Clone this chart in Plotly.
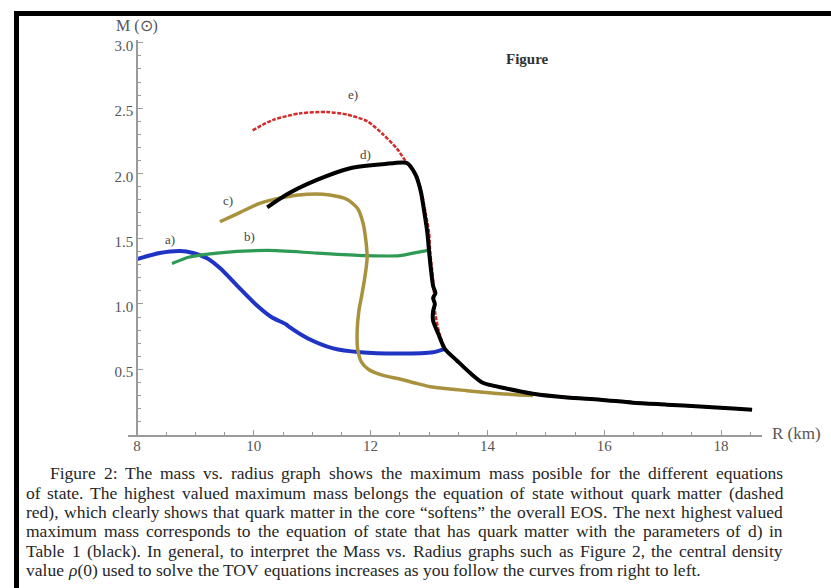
import plotly.graph_objects as go

W, H = 831, 588

# ---------------- data ----------------
# e) no quark matter (dashed red)
red_R = [9.98, 10.33, 10.79, 11.25, 11.60, 11.94, 12.21, 12.45, 12.62, 12.77, 12.87, 12.94, 13.00, 13.02, 13.05, 13.08, 13.10, 13.18, 13.28, 13.48, 13.70, 13.92, 14.34, 14.78, 15.93, 17.07, 18.53]
red_M = [2.33, 2.41, 2.46, 2.47, 2.45, 2.40, 2.30, 2.19, 2.08, 1.99, 1.86, 1.70, 1.55, 1.40, 1.27, 1.13, 0.95, 0.77, 0.656, 0.565, 0.473, 0.397, 0.351, 0.313, 0.267, 0.229, 0.19]

# a) blue
a_R = [8.00, 8.39, 8.74, 8.96, 9.20, 9.42, 9.76, 10.05, 10.30, 10.55, 10.62, 10.91, 11.36, 11.82, 12.50, 13.07, 13.27]
a_M = [1.344, 1.39, 1.405, 1.39, 1.35, 1.275, 1.12, 0.99, 0.90, 0.845, 0.82, 0.74, 0.66, 0.63, 0.62, 0.63, 0.656]

# b) green
b_R = [8.60, 8.90, 9.37, 10.23, 11.08, 11.94, 12.50, 12.73, 12.98]
b_M = [1.31, 1.36, 1.39, 1.41, 1.39, 1.37, 1.37, 1.39, 1.41]

# c) gold
c_R = [9.42, 9.76, 10.10, 10.50, 10.91, 11.30, 11.60, 11.78, 11.87, 11.92, 11.94, 11.90, 11.85, 11.80, 11.77, 11.78, 11.85, 11.96, 12.20, 12.50, 12.80, 13.02, 13.65, 14.22, 14.78]
c_M = [1.63, 1.70, 1.77, 1.815, 1.84, 1.835, 1.80, 1.73, 1.62, 1.48, 1.35, 1.20, 1.07, 0.95, 0.80, 0.65, 0.55, 0.50, 0.455, 0.425, 0.39, 0.366, 0.336, 0.313, 0.298]

# d) black
d_R = [10.23, 10.57, 11.08, 11.65, 12.21, 12.62, 12.77, 12.86, 12.92, 12.97, 13.00, 13.03, 13.07, 13.11, 13.07, 13.10, 13.07, 13.07, 13.16, 13.27, 13.48, 13.70, 13.92, 14.34, 14.78, 15.36, 15.93, 16.49, 17.07, 17.64, 18.21, 18.53]
d_M = [1.74, 1.84, 1.95, 2.04, 2.07, 2.08, 1.99, 1.86, 1.70, 1.55, 1.405, 1.275, 1.137, 1.084, 1.046, 1.00, 0.947, 0.87, 0.77, 0.656, 0.565, 0.473, 0.397, 0.351, 0.313, 0.284, 0.267, 0.244, 0.229, 0.214, 0.20, 0.19]

curve_labels = ["a)", "b)", "c)", "d)", "e)"]
label_R = [8.57, 9.92, 9.56, 11.92, 11.70]
label_M = [1.496, 1.519, 1.794, 2.145, 2.603]

x_tickvals = [8, 10, 12, 14, 16, 18]
x_ticktext = ["8", "10", "12", "14", "16", "18"]
y_tickvals = [0.5, 1.0, 1.5, 2.0, 2.5, 3.0]
y_ticktext = ["0.5", "1.0", "1.5", "2.0", "2.5", "3.0"]

CAPTION_LINES = [
    "Figure 2: The mass vs.  radius graph shows the maximum mass posible for the different equations",
    "of state.  The highest valued maximum mass belongs the equation of state without quark matter (dashed",
    "red), which clearly shows that quark matter in the core \u201csoftens\u201d the overall EOS. The next highest valued",
    "maximum mass corresponds to the equation of state that has quark matter with the parameters of d) in",
    "Table 1 (black).  In general, to interpret the Mass vs.  Radius graphs such as Figure 2, the central density",
    "value <i>\u03c1</i>(0) used to solve the TOV equations increases as you follow the curves from right to left.",
]

# ---------------- helpers ----------------
def pxx(p):
    return p / W


def pxy(p):
    return 1 - p / H


SERIF = "Liberation Serif, Times New Roman, serif"

fig = go.Figure()

line_common = dict(shape="spline", smoothing=0.7)
fig.add_trace(go.Scatter(x=red_R, y=red_M, mode="lines",
                         line=dict(color="#d42a2a", width=2.5, dash="4px,1.5px", **line_common)))
fig.add_trace(go.Scatter(x=a_R, y=a_M, mode="lines",
                         line=dict(color="#1f33c4", width=4, **line_common)))
fig.add_trace(go.Scatter(x=b_R, y=b_M, mode="lines",
                         line=dict(color="#2f9a55", width=3.2, **line_common)))
fig.add_trace(go.Scatter(x=c_R, y=c_M, mode="lines",
                         line=dict(color="#a8923e", width=3.5, **line_common)))
fig.add_trace(go.Scatter(x=d_R, y=d_M, mode="lines",
                         line=dict(color="#000000", width=4, **line_common)))

ax_col = "#9a9a9a"
tick_font = dict(family=SERIF, size=15, color="#555555")

fig.update_layout(
    width=W, height=H,
    margin=dict(l=0, r=0, t=0, b=0),
    paper_bgcolor="white", plot_bgcolor="white",
    showlegend=False,
    xaxis=dict(
        domain=[pxx(128.2), pxx(762)], range=[7.85, 18.7],
        showgrid=False, zeroline=False,
        showline=True, linecolor=ax_col, linewidth=1.5,
        ticks="inside", ticklen=5, tickcolor=ax_col, tickwidth=1.2,
        tickvals=x_tickvals, ticktext=x_ticktext, tickfont=tick_font,
        ticklabelstandoff=-3,
        minor=dict(dtick=0.5, tick0=0, ticks="inside", ticklen=3, tickcolor=ax_col, showgrid=False),
        fixedrange=True,
    ),
    yaxis=dict(
        domain=[pxy(434), pxy(38.4)], range=[0, 3.02],
        anchor="free", position=pxx(137),
        showgrid=False, zeroline=False,
        showline=True, linecolor=ax_col, linewidth=1.5,
        ticks="inside", ticklen=5, tickcolor=ax_col, tickwidth=1.2,
        tickvals=y_tickvals, ticktext=y_ticktext, tickfont=tick_font,
        ticklabelshift=3,
        minor=dict(dtick=0.1, tick0=0, ticks="inside", ticklen=3, tickcolor=ax_col, showgrid=False),
        fixedrange=True,
    ),
)

# frame (thick black top and left border)
fig.add_shape(type="rect", xref="paper", yref="paper",
              x0=pxx(14), x1=1.0, y0=pxy(14), y1=pxy(9),
              fillcolor="black", line=dict(width=0), layer="above")
fig.add_shape(type="rect", xref="paper", yref="paper",
              x0=pxx(14), x1=pxx(19), y0=0, y1=pxy(9),
              fillcolor="black", line=dict(width=0), layer="above")

# curve labels
for t, r, m in zip(curve_labels, label_R, label_M):
    fig.add_annotation(x=r, y=m, xref="x", yref="y", text=t, showarrow=False,
                       xanchor="center", yanchor="middle",
                       font=dict(family=SERIF, size=13, color="#444444"))

# axis titles and figure title
fig.add_annotation(x=pxx(137), y=pxy(24), xref="paper", yref="paper", text="M (\u2299)",
                   xanchor="center", yanchor="middle",
                   showarrow=False, font=dict(family=SERIF, size=16, color="#555555"))
fig.add_annotation(x=pxx(770), y=pxy(433), xref="paper", yref="paper", text="R (km)",
                   xanchor="left", yanchor="middle",
                   showarrow=False, font=dict(family=SERIF, size=17, color="#555555"))
fig.add_annotation(x=pxx(527), y=pxy(57), xref="paper", yref="paper", text="<b>Figure</b>",
                   xanchor="center", yanchor="middle",
                   showarrow=False, font=dict(family=SERIF, size=15, color="#333333"))

# ---------------- justified caption ----------------
TW = {' ': 250, '!': 333, '"': 408, '(': 333, ')': 333, ',': 250, '-': 333, '.': 250, ':': 278, ';': 278,
      '0': 500, '1': 500, '2': 500, '3': 500, '4': 500, '5': 500, '6': 500, '7': 500, '8': 500, '9': 500,
      'A': 722, 'B': 667, 'C': 667, 'D': 722, 'E': 611, 'F': 556, 'G': 722, 'H': 722, 'I': 333, 'J': 389,
      'K': 722, 'L': 611, 'M': 889, 'N': 722, 'O': 722, 'P': 556, 'Q': 722, 'R': 667, 'S': 556, 'T': 611,
      'U': 722, 'V': 722, 'W': 944, 'X': 722, 'Y': 722, 'Z': 611,
      'a': 444, 'b': 500, 'c': 444, 'd': 500, 'e': 444, 'f': 333, 'g': 500, 'h': 500, 'i': 278, 'j': 278,
      'k': 500, 'l': 278, 'm': 778, 'n': 500, 'o': 500, 'p': 500, 'q': 500, 'r': 333, 's': 389, 't': 278,
      'u': 500, 'v': 500, 'w': 722, 'x': 500, 'y': 500, 'z': 444, '\u201c': 444, '\u201d': 444, '\u03c1': 500}

CAP_SIZE = 17.5
CAP_LEFT, CAP_RIGHT, INDENT = 26, 783, 24
CAP_Y0, CAP_DY = 473, 19.4


def text_w(s):
    s = s.replace("<i>", "").replace("</i>", "")
    return sum(TW.get(ch, 500) for ch in s) * CAP_SIZE / 1000.0


for i, line in enumerate(CAPTION_LINES):
    words = [w for w in line.split(" ") if w]
    left = CAP_LEFT + (INDENT if i == 0 else 0)
    widths = [text_w(w) for w in words]
    natural = sum(widths)
    last = (i == len(CAPTION_LINES) - 1)
    if last or len(words) < 2:
        gap = TW[' '] * CAP_SIZE / 1000.0
    else:
        gap = (CAP_RIGHT - left - natural) / (len(words) - 1)
    x = left
    y = CAP_Y0 + i * CAP_DY
    for w, wd in zip(words, widths):
        fig.add_annotation(x=pxx(x), y=pxy(y), xref="paper", yref="paper", text=w,
                           xanchor="left", yanchor="middle", showarrow=False,
                           borderpad=0, borderwidth=0,
                           font=dict(family=SERIF, size=CAP_SIZE, color="#262626"))
        x += wd + gap

fig.write_html("out.html")
